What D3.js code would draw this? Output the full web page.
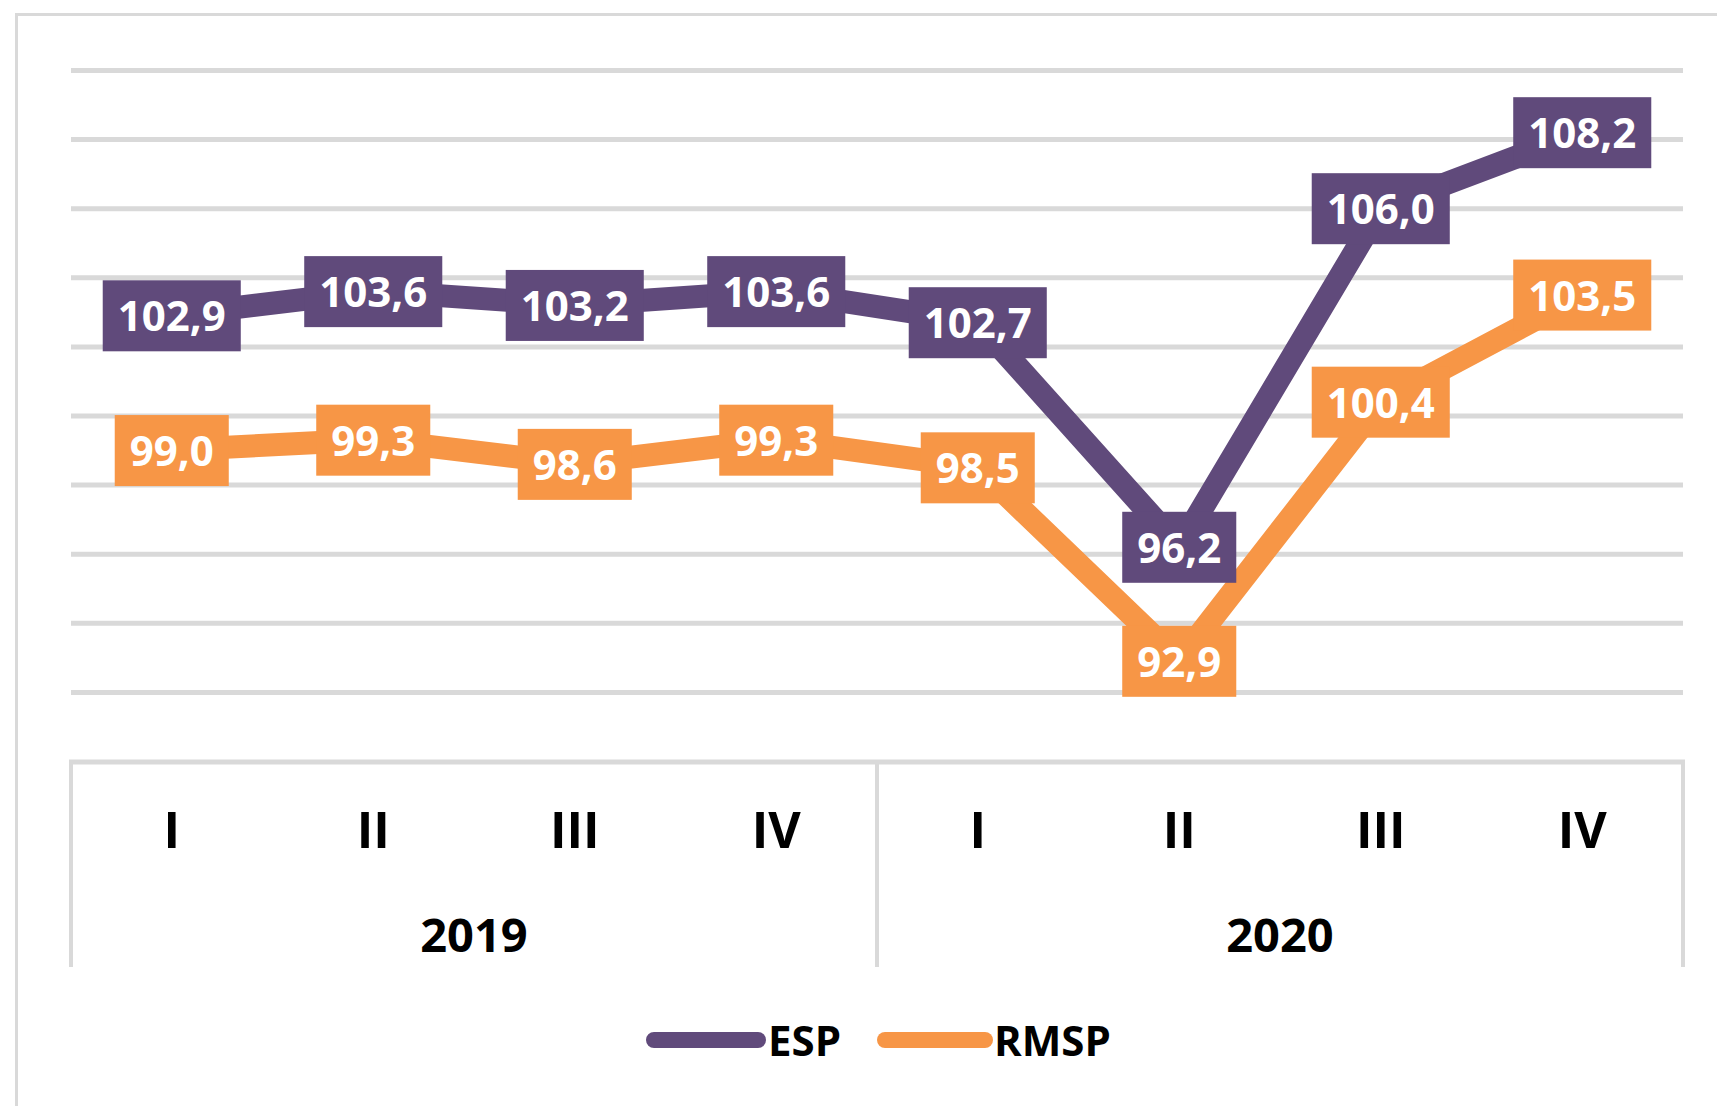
<!DOCTYPE html>
<html>
<head>
<meta charset="utf-8">
<script src="https://cdn.jsdelivr.net/npm/d3@7"></script>
<style>
  html, body { margin: 0; padding: 0; background: #fff; }
  svg { display: block; font-family: "Open Sans", "Noto Sans", sans-serif; }
</style>
</head>
<body>
<div id="chart"></div>
<script>
// Quarterly index, ESP vs RMSP
const years = ["2019", "2020"];
const quarters = ["I", "II", "III", "IV"];
const espValues = [102.9, 103.6, 103.2, 103.6, 102.7, 96.2, 106.0, 108.2];
const rmspValues = [99.0, 99.3, 98.6, 99.3, 98.5, 92.9, 100.4, 103.5];
const gridValues = [92, 94, 96, 98, 100, 102, 104, 106, 108, 110];
const seriesNames = ["ESP", "RMSP"];

const W = 1717, H = 1106;
const PURPLE = "#604a7b", ORANGE = "#f79646", GRID = "#d9d9d9";
const plot = { left: 71, right: 1683, top: 70, bottom: 761 };

const keys = years.flatMap(yr => quarters.map(q => yr + "-" + q));
const series = [
  { name: seriesNames[0], values: espValues, color: PURPLE },
  { name: seriesNames[1], values: rmspValues, color: ORANGE },
];

const svg = d3.select("#chart").append("svg")
  .attr("width", W).attr("height", H).attr("viewBox", `0 0 ${W} ${H}`);

const x = d3.scaleBand().domain(keys).range([plot.left, plot.right]);
const y = d3.scaleLinear().domain([90, 110]).range([plot.bottom, plot.top]);
const cx = i => x(keys[i]) + x.bandwidth() / 2;
const fmt = v => d3.format(".1f")(v).replace(".", ",");

// outer chart frame (only top & left edges are in view)
svg.append("line").attr("x1", 16).attr("x2", W).attr("y1", 14.5).attr("y2", 14.5)
  .attr("stroke", GRID).attr("stroke-width", 3);
svg.append("line").attr("x1", 16.5).attr("x2", 16.5).attr("y1", 13).attr("y2", H)
  .attr("stroke", GRID).attr("stroke-width", 3);

// gridlines
const grid = svg.append("g").attr("transform", `translate(${plot.left},0)`)
  .call(d3.axisLeft(y).tickValues(gridValues).tickSize(-(plot.right - plot.left)).tickFormat(""));
grid.select(".domain").remove();
grid.selectAll(".tick line").attr("stroke", GRID).attr("stroke-width", 5);

// multi-level category axis
const axis = svg.append("g");
const axisBottom = 967;
axis.append("line").attr("x1", plot.left - 2).attr("x2", plot.right + 2)
  .attr("y1", plot.bottom + 1).attr("y2", plot.bottom + 1)
  .attr("stroke", GRID).attr("stroke-width", 5);
const sepX = [x(keys[0]), x(keys[quarters.length]), plot.right];
axis.selectAll("line.sep").data(sepX).join("line").attr("class", "sep")
  .attr("x1", d => d).attr("x2", d => d)
  .attr("y1", plot.bottom + 1).attr("y2", axisBottom)
  .attr("stroke", GRID).attr("stroke-width", 4);
axis.selectAll("text.q").data(keys).join("text").attr("class", "q")
  .attr("x", (d, i) => cx(i)).attr("y", 848)
  .attr("text-anchor", "middle").attr("font-size", 50).attr("font-weight", 700)
  .attr("fill", "#000").text(d => d.split("-")[1]);
axis.selectAll("text.yr").data(years).join("text").attr("class", "yr")
  .attr("x", (d, i) => (x(keys[i * 4]) + x(keys[i * 4 + 3]) + x.bandwidth()) / 2)
  .attr("y", 952).attr("text-anchor", "middle")
  .attr("font-size", 47).attr("font-weight", 700).attr("fill", "#000").text(d => d);

// series lines
const line = d3.line().x((d, i) => cx(i)).y(d => y(d));
svg.selectAll("path.series").data(series).join("path").attr("class", "series")
  .attr("d", d => line(d.values)).attr("fill", "none")
  .attr("stroke", d => d.color).attr("stroke-width", 23).attr("stroke-linejoin", "round");

// data labels in filled boxes
for (const s of series) {
  s.values.forEach((v, i) => {
    const g = svg.append("g").attr("transform", `translate(${cx(i)},${y(v)})`);
    const t = g.append("text").attr("text-anchor", "middle").attr("y", 16)
      .attr("font-size", 42).attr("font-weight", 700).attr("fill", "#fff").text(fmt(v));
    const tw = t.node().getComputedTextLength();
    g.insert("rect", "text").attr("x", -tw / 2 - 15).attr("y", -35)
      .attr("width", tw + 30).attr("height", 71).attr("fill", s.color);
  });
}

// legend
const legend = [
  { x0: 646, x1: 766, tx: 768 },
  { x0: 877, x1: 993, tx: 994 },
];
series.forEach((s, i) => {
  const L = legend[i];
  svg.append("line").attr("x1", L.x0 + 8).attr("x2", L.x1 - 8).attr("y1", 1040).attr("y2", 1040)
    .attr("stroke", s.color).attr("stroke-width", 16).attr("stroke-linecap", "round");
  svg.append("text").attr("x", L.tx).attr("y", 1056)
    .attr("font-size", 42).attr("font-weight", 700).attr("fill", "#000").text(s.name);
});
</script>
</body>
</html>
